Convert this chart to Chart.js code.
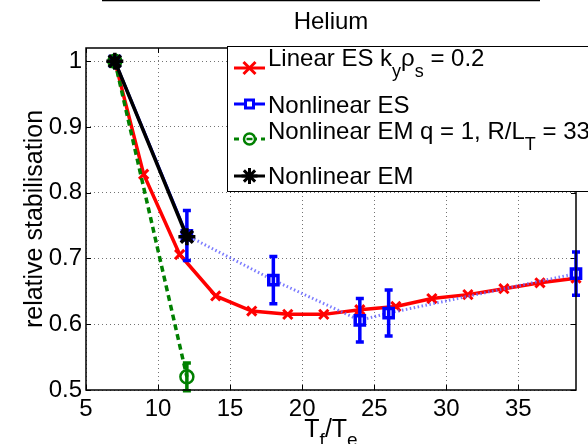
<!DOCTYPE html>
<html>
<head>
<meta charset="utf-8">
<script src="https://cdn.jsdelivr.net/npm/chart.js@4.4.1/dist/chart.umd.min.js"></script>
<style>
html,body{margin:0;padding:0;background:#fff;}
canvas{display:block;}
</style>
</head>
<body>
<canvas id="c" width="588" height="444"></canvas>
<script>
// ---- data ----
const titleText = "Helium";
const xTickValues = [5, 10, 15, 20, 25, 30, 35];
const xTickLabels = ["5", "10", "15", "20", "25", "30", "35"];
const yTickValues = [0.5, 0.6, 0.7, 0.8, 0.9, 1];
const yTickLabels = ["0.5", "0.6", "0.7", "0.8", "0.9", "1"];

const linearX = [7, 9, 11.5, 14, 16.5, 19, 21.5, 24, 26.5, 29, 31.5, 34, 36.5, 39];
const linearY = [1, 0.828, 0.706, 0.643, 0.620, 0.615, 0.615, 0.622, 0.627, 0.639, 0.645, 0.654, 0.663, 0.670];

const nlesX = [7, 12, 18, 24, 26, 39];
const nlesY = [1, 0.735, 0.667, 0.606, 0.617, 0.677];
const nlesErr = [0, 0.038, 0.036, 0.033, 0.035, 0.033];

const nlemqX = [7, 12];
const nlemqY = [1, 0.52];
const nlemqErr = [0, 0.021];

const nlemX = [7, 12];
const nlemY = [1, 0.733];

const FONT = "'Liberation Sans', Arial, Helvetica, sans-serif";
const RED = "#ff0000", BLUE = "#0000ff", GREEN = "#008000", BLACK = "#000000";

function pts(xs, ys) { return xs.map((x, i) => ({ x: x, y: ys[i] })); }

const errorMap = {}; // dataset index -> {errs, color}

const datasets = [
  {
    label: "Linear ES", data: pts(linearX, linearY),
    borderColor: RED, backgroundColor: RED, borderWidth: 3.5,
    pointStyle: "crossRot", pointRadius: 6.5, pointBorderWidth: 3,
    pointBorderColor: RED, order: 4, clip: false
  },
  {
    label: "Nonlinear ES", data: pts(nlesX, nlesY),
    borderColor: BLUE, backgroundColor: "#ffffff", borderWidth: 3,
    pointStyle: "rect", pointRadius: 6.5, pointBorderWidth: 3.5,
    pointBorderColor: BLUE, pointBackgroundColor: "#ffffff", order: 3, clip: false,
    segment: {
      borderColor: c => c.p0DataIndex >= 1 ? "rgba(100,100,255,0.85)" : BLUE,
      borderDash: c => c.p0DataIndex >= 1 ? [1.5, 2.5] : []
    }
  },
  {
    label: "Nonlinear EM q", data: pts(nlemqX, nlemqY),
    borderColor: GREEN, backgroundColor: "#ffffff", borderWidth: 3.5, borderDash: [6, 4],
    pointStyle: "circle", pointRadius: 6.5, pointBorderWidth: 2.5,
    pointBorderColor: GREEN, pointBackgroundColor: "rgba(255,255,255,0)", order: 2, clip: false
  },
  {
    label: "Nonlinear EM", data: pts(nlemX, nlemY),
    borderColor: BLACK, backgroundColor: BLACK, borderWidth: 3.5,
    pointStyle: "star", pointRadius: 8.5, pointBorderWidth: 3.5,
    pointBorderColor: BLACK, order: 1, clip: false
  }
];
errorMap[1] = { errs: nlesErr, color: BLUE };
errorMap[2] = { errs: nlemqErr, color: GREEN };

// ---- plugins ----
const errorBars = {
  id: "errorBars",
  afterDatasetDraw(chart, args) {
    const e = errorMap[args.index];
    if (!e) return;
    const ctx = chart.ctx, xs = chart.scales.x, ys = chart.scales.y;
    const data = chart.data.datasets[args.index].data;
    ctx.save();
    ctx.strokeStyle = e.color;
    ctx.lineWidth = 3.5;
    ctx.lineCap = "butt";
    data.forEach((p, i) => {
      const err = e.errs[i];
      if (!err) return;
      const px = xs.getPixelForValue(p.x);
      const top = ys.getPixelForValue(p.y + err);
      const bot = ys.getPixelForValue(p.y - err);
      ctx.beginPath();
      ctx.moveTo(px, top); ctx.lineTo(px, bot);
      ctx.moveTo(px - 4, top); ctx.lineTo(px + 4, top);
      ctx.moveTo(px - 4, bot); ctx.lineTo(px + 4, bot);
      ctx.stroke();
    });
    ctx.restore();
  }
};

function drawRich(ctx, parts, x, base, size, subSize, subDrop) {
  let cx = x;
  parts.forEach(p => {
    if (p.sub) {
      ctx.font = subSize + "px " + FONT;
      ctx.fillText(p.t, cx, base + subDrop);
    } else {
      ctx.font = size + "px " + FONT;
      ctx.fillText(p.t, cx, base);
    }
    cx += ctx.measureText(p.t).width;
  });
  return cx - x;
}
function measureRich(ctx, parts, size, subSize) {
  let w = 0;
  parts.forEach(p => {
    ctx.font = (p.sub ? subSize : size) + "px " + FONT;
    w += ctx.measureText(p.t).width;
  });
  return w;
}

function marker(ctx, style, x, y, r, color, lw) {
  ctx.save();
  ctx.strokeStyle = color; ctx.lineWidth = lw; ctx.setLineDash([]);
  ctx.beginPath();
  if (style === "x") {
    const d = r * 0.75;
    ctx.moveTo(x - d, y - d); ctx.lineTo(x + d, y + d);
    ctx.moveTo(x - d, y + d); ctx.lineTo(x + d, y - d);
    ctx.stroke();
  } else if (style === "sq") {
    ctx.fillStyle = "#fff";
    ctx.rect(x - r, y - r, 2 * r, 2 * r); ctx.fill(); ctx.stroke();
  } else if (style === "o") {
    ctx.fillStyle = "#fff";
    ctx.arc(x, y, r, 0, Math.PI * 2); ctx.fill(); ctx.stroke();
    ctx.beginPath(); ctx.moveTo(x - 3, y); ctx.lineTo(x + 3, y); ctx.stroke();
  } else if (style === "star") {
    const d = r * 0.7;
    ctx.moveTo(x - r, y); ctx.lineTo(x + r, y);
    ctx.moveTo(x, y - r); ctx.lineTo(x, y + r);
    ctx.moveTo(x - d, y - d); ctx.lineTo(x + d, y + d);
    ctx.moveTo(x - d, y + d); ctx.lineTo(x + d, y - d);
    ctx.stroke();
  }
  ctx.restore();
}

const decor = {
  id: "decor",
  beforeDatasetsDraw(chart) {
    // inner tick marks
    const ctx = chart.ctx, a = chart.chartArea, xs = chart.scales.x, ys = chart.scales.y;
    ctx.save();
    ctx.strokeStyle = "#000"; ctx.lineWidth = 1;
    ctx.beginPath();
    xTickValues.forEach(v => {
      const px = Math.round(xs.getPixelForValue(v)) + 0.5;
      ctx.moveTo(px, a.bottom); ctx.lineTo(px, a.bottom - 5);
      ctx.moveTo(px, a.top); ctx.lineTo(px, a.top + 5);
    });
    yTickValues.forEach(v => {
      const py = Math.round(ys.getPixelForValue(v)) + 0.5;
      ctx.moveTo(a.left, py); ctx.lineTo(a.left + 5, py);
      ctx.moveTo(a.right, py); ctx.lineTo(a.right - 5, py);
    });
    ctx.stroke();
    ctx.restore();
  },
  afterDraw(chart) {
    const ctx = chart.ctx, a = chart.chartArea;
    ctx.save();
    // frame
    ctx.strokeStyle = "#000"; ctx.lineWidth = 1.5;
    ctx.strokeRect(a.left, a.top, a.right - a.left, a.bottom - a.top);
    // top line (edge of previous panel)
    ctx.lineWidth = 1.5;
    ctx.beginPath(); ctx.moveTo(102, 0.5); ctx.lineTo(540, 0.5); ctx.stroke();
    // title
    ctx.fillStyle = "#000";
    ctx.font = "24px " + FONT;
    ctx.textAlign = "center"; ctx.textBaseline = "alphabetic";
    ctx.fillText(titleText, (a.left + a.right) / 2, 29);
    // y label
    ctx.save();
    ctx.translate(42, (a.top + a.bottom) / 2);
    ctx.rotate(-Math.PI / 2);
    ctx.font = "25px " + FONT;
    ctx.fillText("relative stabilisation", 0, 0);
    ctx.restore();
    // x label T_f/T_e
    ctx.textAlign = "left";
    const xl = [{ t: "T" }, { t: "f", sub: true }, { t: "/T" }, { t: "e", sub: true }];
    const w = measureRich(ctx, xl, 25, 19);
    drawRich(ctx, xl, (a.left + a.right) / 2 - w / 2, 437, 25, 19, 9);

    // legend
    const lx = 227.5, ly = 46.5;
    ctx.fillStyle = "#fff";
    ctx.fillRect(lx, ly, 400, 145);
    ctx.strokeStyle = "#000"; ctx.lineWidth = 1;
    ctx.strokeRect(lx, ly, 400, 145);
    const rows = [
      { color: RED, dash: [], m: "x", r: 8, lw: 3, lineY: 68, base: 66,
        parts: [{ t: "Linear ES k" }, { t: "y", sub: true }, { t: "ρ" }, { t: "s", sub: true }, { t: " = 0.2" }] },
      { color: BLUE, dash: [], m: "sq", r: 4, lw: 3, lineY: 104, base: 113,
        parts: [{ t: "Nonlinear ES" }] },
      { color: GREEN, dash: [5, 4], m: "o", r: 5.5, lw: 2.5, lineY: 139, base: 139,
        parts: [{ t: "Nonlinear EM q = 1, R/L" }, { t: "T", sub: true }, { t: " = 33" }] },
      { color: BLACK, dash: [], m: "star", r: 8, lw: 3, lineY: 176, base: 184,
        parts: [{ t: "Nonlinear EM" }] }
    ];
    rows.forEach(row => {
      ctx.save();
      ctx.strokeStyle = row.color; ctx.lineWidth = 3; ctx.setLineDash(row.dash);
      ctx.beginPath(); ctx.moveTo(234, row.lineY); ctx.lineTo(265, row.lineY); ctx.stroke();
      ctx.restore();
      marker(ctx, row.m, 249.5, row.lineY, row.r, row.color, row.lw);
      ctx.fillStyle = "#000";
      drawRich(ctx, row.parts, 268, row.base, 24, 18, 11);
    });
    ctx.restore();
  }
};

new Chart(document.getElementById("c"), {
  type: "scatter",
  data: { datasets: datasets },
  options: {
    responsive: false,
    animation: false,
    showLine: true,
    layout: { padding: { top: 48, right: 9, left: 0, bottom: 0 } },
    plugins: { legend: { display: false }, tooltip: { enabled: false }, title: { display: false } },
    elements: { line: { tension: 0 } },
    scales: {
      x: {
        type: "linear", min: 5, max: 39,
        afterBuildTicks: s => { s.ticks = xTickValues.map(v => ({ value: v })); },
        afterFit: s => { s.height = 54; },
        ticks: {
          color: "#000", font: { size: 24, family: FONT }, padding: 5, maxRotation: 0,
          autoSkip: false,
          callback: (v) => { const i = xTickValues.indexOf(v); return i >= 0 ? xTickLabels[i] : ""; }
        },
        grid: { color: "rgba(0,0,0,0.55)", lineWidth: 1, drawTicks: false },
        border: { display: false, dash: [1, 3] }
      },
      y: {
        type: "linear", min: 0.5, max: 1.02,
        afterBuildTicks: s => { s.ticks = yTickValues.map(v => ({ value: v })); },
        afterFit: s => { s.width = 86; },
        ticks: {
          color: "#000", font: { size: 24, family: FONT }, padding: 4, autoSkip: false,
          callback: (v) => { const i = yTickValues.findIndex(t => Math.abs(t - v) < 1e-9); return i >= 0 ? yTickLabels[i] : ""; }
        },
        grid: { color: "rgba(0,0,0,0.55)", lineWidth: 1, drawTicks: false },
        border: { display: false, dash: [1, 3] }
      }
    }
  },
  plugins: [errorBars, decor]
});
</script>
</body>
</html>
